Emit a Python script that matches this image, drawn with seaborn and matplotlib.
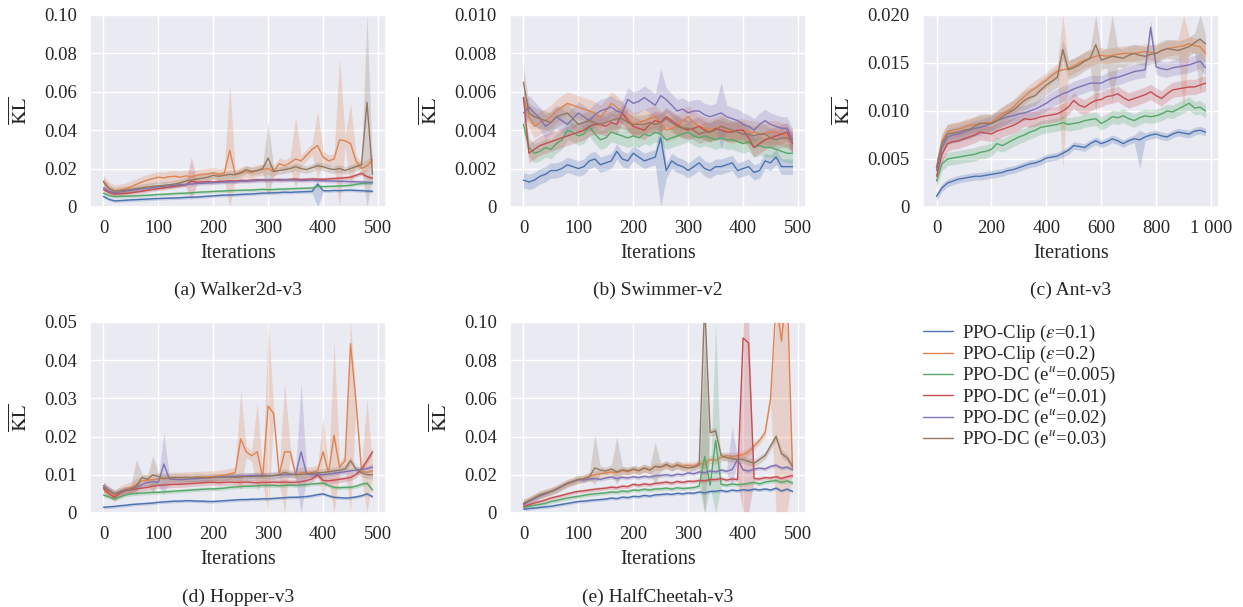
import matplotlib
matplotlib.use("Agg")
import matplotlib.pyplot as plt
from matplotlib.lines import Line2D
import seaborn as sns
import numpy as np
import pandas as pd

methods = ["PPO-Clip ($\\it{\\varepsilon}$=0.1)", "PPO-Clip ($\\it{\\varepsilon}$=0.2)",
           "PPO-DC (e$^{\\it{u}}$=0.005)", "PPO-DC (e$^{\\it{u}}$=0.01)",
           "PPO-DC (e$^{\\it{u}}$=0.02)", "PPO-DC (e$^{\\it{u}}$=0.03)"]

iters_500 = list(range(0, 500, 10))
iters_1000 = list(range(0, 1000, 20))

# ---- Walker2d-v3 ----
walker = [
    [0.0055,0.0040,0.0032,0.0033,0.0035,0.0037,0.0038,0.0040,0.0041,0.0043,
     0.0044,0.0045,0.0046,0.0047,0.0048,0.0050,0.0051,0.0052,0.0054,0.0056,
     0.0058,0.0060,0.0062,0.0062,0.0064,0.0065,0.0067,0.0068,0.0070,0.0072,
     0.0073,0.0074,0.0075,0.0077,0.0076,0.0078,0.0079,0.0080,0.0081,0.0120,
     0.0085,0.0084,0.0086,0.0085,0.0087,0.0088,0.0086,0.0085,0.0083,0.0082],
    [0.0135,0.0100,0.0085,0.0088,0.0095,0.0105,0.0118,0.0130,0.0140,0.0148,
     0.0155,0.0152,0.0158,0.0160,0.0155,0.0162,0.0158,0.0165,0.0170,0.0172,
     0.0178,0.0170,0.0175,0.0295,0.0170,0.0175,0.0185,0.0180,0.0190,0.0195,
     0.0200,0.0185,0.0225,0.0215,0.0230,0.0250,0.0240,0.0270,0.0300,0.0320,
     0.0260,0.0240,0.0250,0.0350,0.0345,0.0330,0.0240,0.0200,0.0215,0.0245],
    [0.0072,0.0060,0.0054,0.0055,0.0056,0.0057,0.0058,0.0060,0.0061,0.0063,
     0.0065,0.0066,0.0068,0.0070,0.0071,0.0072,0.0074,0.0076,0.0078,0.0079,
     0.0081,0.0082,0.0083,0.0085,0.0086,0.0087,0.0088,0.0088,0.0090,0.0092,
     0.0090,0.0091,0.0093,0.0094,0.0095,0.0096,0.0097,0.0098,0.0099,0.0108,
     0.0106,0.0107,0.0108,0.0110,0.0111,0.0113,0.0118,0.0122,0.0124,0.0126],
    [0.0090,0.0075,0.0068,0.0069,0.0071,0.0074,0.0078,0.0082,0.0087,0.0092,
     0.0096,0.0100,0.0104,0.0108,0.0112,0.0115,0.0135,0.0128,0.0130,0.0132,
     0.0130,0.0133,0.0134,0.0136,0.0135,0.0138,0.0137,0.0140,0.0142,0.0141,
     0.0140,0.0142,0.0143,0.0141,0.0144,0.0145,0.0143,0.0144,0.0146,0.0145,
     0.0144,0.0146,0.0148,0.0150,0.0152,0.0155,0.0165,0.0175,0.0158,0.0150],
    [0.0100,0.0082,0.0075,0.0078,0.0082,0.0086,0.0090,0.0094,0.0098,0.0102,
     0.0105,0.0108,0.0111,0.0114,0.0116,0.0118,0.0120,0.0122,0.0124,0.0125,
     0.0127,0.0128,0.0130,0.0131,0.0132,0.0134,0.0135,0.0136,0.0138,0.0140,
     0.0140,0.0141,0.0139,0.0142,0.0141,0.0140,0.0138,0.0139,0.0140,0.0138,
     0.0137,0.0136,0.0135,0.0134,0.0133,0.0132,0.0131,0.0130,0.0129,0.0128],
    [0.0130,0.0095,0.0082,0.0085,0.0088,0.0092,0.0096,0.0100,0.0104,0.0108,
     0.0110,0.0113,0.0116,0.0120,0.0125,0.0135,0.0140,0.0145,0.0150,0.0155,
     0.0165,0.0160,0.0165,0.0170,0.0168,0.0180,0.0195,0.0185,0.0190,0.0200,
     0.0255,0.0185,0.0190,0.0195,0.0200,0.0210,0.0200,0.0195,0.0205,0.0215,
     0.0210,0.0200,0.0195,0.0200,0.0190,0.0200,0.0210,0.0220,0.0545,0.0170],
]
walker_spread = [0.0008, 0.003, 0.0008, 0.001, 0.001, 0.002]
walker_spikes = [(1, 230, 0.0, 0.064), (3, 160, 0.004, 0.026), (5, 300, 0.005, 0.044),
                 (1, 350, 0.01, 0.047), (1, 390, 0.015, 0.050), (1, 430, 0.0, 0.078),
                 (1, 450, 0.01, 0.054), (5, 480, 0.0, 0.10), (0, 390, 0.0, 0.013)]

# ---- Swimmer-v2 ----
swimmer = [
    [0.0014,0.0013,0.0014,0.0016,0.0017,0.0019,0.0019,0.0020,0.0022,0.0021,
     0.0020,0.0021,0.0024,0.0025,0.0022,0.0023,0.0024,0.0029,0.0025,0.0024,
     0.0028,0.0026,0.0024,0.0025,0.0026,0.0036,0.0019,0.0024,0.0022,0.0021,
     0.0019,0.0021,0.0023,0.0020,0.0019,0.0021,0.0021,0.0022,0.0023,0.0019,
     0.0020,0.0021,0.0018,0.0019,0.0024,0.0023,0.0026,0.0021,0.0021,0.0021],
    [0.0057,0.0047,0.0042,0.0044,0.0045,0.0047,0.0050,0.0052,0.0054,0.0053,
     0.0052,0.0051,0.0050,0.0049,0.0047,0.0050,0.0054,0.0052,0.0049,0.0046,
     0.0043,0.0044,0.0045,0.0046,0.0047,0.0044,0.0040,0.0041,0.0042,0.0045,
     0.0047,0.0044,0.0042,0.0041,0.0040,0.0041,0.0042,0.0040,0.0039,0.0040,
     0.0040,0.0039,0.0039,0.0038,0.0038,0.0039,0.0039,0.0038,0.0037,0.0034],
    [0.0043,0.0031,0.0028,0.0029,0.0031,0.0030,0.0033,0.0035,0.0040,0.0039,
     0.0037,0.0038,0.0042,0.0038,0.0035,0.0036,0.0039,0.0038,0.0037,0.0036,
     0.0037,0.0036,0.0038,0.0037,0.0039,0.0038,0.0035,0.0036,0.0037,0.0038,
     0.0039,0.0037,0.0036,0.0037,0.0036,0.0035,0.0036,0.0035,0.0035,0.0034,
     0.0033,0.0034,0.0031,0.0032,0.0031,0.0031,0.0030,0.0029,0.0028,0.0028],
    [0.0057,0.0028,0.0030,0.0032,0.0033,0.0034,0.0035,0.0036,0.0037,0.0038,
     0.0039,0.0040,0.0042,0.0043,0.0043,0.0042,0.0044,0.0043,0.0049,0.0045,
     0.0042,0.0041,0.0040,0.0043,0.0045,0.0044,0.0047,0.0045,0.0043,0.0041,
     0.0040,0.0041,0.0042,0.0040,0.0039,0.0041,0.0040,0.0039,0.0039,0.0040,
     0.0040,0.0036,0.0031,0.0033,0.0035,0.0036,0.0037,0.0038,0.0039,0.0033],
    [0.0049,0.0052,0.0049,0.0046,0.0042,0.0044,0.0047,0.0045,0.0043,0.0046,
     0.0049,0.0047,0.0045,0.0048,0.0050,0.0051,0.0052,0.0050,0.0049,0.0056,
     0.0054,0.0055,0.0057,0.0055,0.0053,0.0058,0.0056,0.0053,0.0050,0.0051,
     0.0049,0.0050,0.0050,0.0048,0.0047,0.0048,0.0049,0.0047,0.0046,0.0045,
     0.0043,0.0042,0.0040,0.0043,0.0045,0.0043,0.0042,0.0041,0.0041,0.0035],
    [0.0065,0.0049,0.0047,0.0046,0.0045,0.0044,0.0047,0.0048,0.0049,0.0046,
     0.0043,0.0044,0.0045,0.0044,0.0043,0.0044,0.0045,0.0046,0.0046,0.0044,
     0.0043,0.0043,0.0043,0.0044,0.0043,0.0044,0.0046,0.0044,0.0042,0.0041,
     0.0041,0.0040,0.0038,0.0039,0.0039,0.0040,0.0042,0.0041,0.0040,0.0039,
     0.0038,0.0038,0.0037,0.0038,0.0038,0.0036,0.0035,0.0036,0.0036,0.0034],
]
swimmer_spread = [0.0004, 0.0006, 0.0005, 0.0005, 0.0006, 0.0005]
swimmer_spikes = [(0, 250, 0.0, 0.0045), (4, 250, 0.004, 0.0072), (4, 360, 0.003, 0.0065),
                  (5, 0, 0.005, 0.0073)]

# ---- Ant-v3 ----
ant = [
    [0.0011,0.0020,0.0025,0.0027,0.0029,0.0030,0.0031,0.0032,0.0032,0.0033,
     0.0034,0.0035,0.0036,0.0038,0.0039,0.0041,0.0043,0.0045,0.0046,0.0048,
     0.0051,0.0052,0.0053,0.0056,0.0059,0.0064,0.0063,0.0062,0.0066,0.0069,
     0.0066,0.0068,0.0071,0.0069,0.0066,0.0069,0.0071,0.0070,0.0073,0.0075,
     0.0076,0.0074,0.0073,0.0076,0.0078,0.0077,0.0076,0.0079,0.0080,0.0078],
    [0.0041,0.0069,0.0078,0.0080,0.0081,0.0083,0.0085,0.0086,0.0087,0.0088,
     0.0088,0.0093,0.0097,0.0100,0.0104,0.0110,0.0115,0.0120,0.0124,0.0128,
     0.0132,0.0137,0.0141,0.0143,0.0144,0.0147,0.0150,0.0153,0.0155,0.0157,
     0.0158,0.0157,0.0158,0.0159,0.0160,0.0160,0.0160,0.0161,0.0162,0.0161,
     0.0160,0.0163,0.0165,0.0166,0.0167,0.0168,0.0170,0.0168,0.0167,0.0160],
    [0.0027,0.0045,0.0050,0.0051,0.0052,0.0053,0.0054,0.0055,0.0057,0.0058,
     0.0060,0.0066,0.0064,0.0067,0.0070,0.0073,0.0075,0.0078,0.0080,0.0083,
     0.0084,0.0085,0.0086,0.0088,0.0086,0.0087,0.0088,0.0090,0.0091,0.0092,
     0.0087,0.0090,0.0094,0.0093,0.0095,0.0092,0.0090,0.0093,0.0095,0.0094,
     0.0095,0.0097,0.0100,0.0099,0.0102,0.0105,0.0108,0.0103,0.0104,0.0100],
    [0.0032,0.0055,0.0066,0.0068,0.0069,0.0071,0.0073,0.0075,0.0078,0.0077,
     0.0076,0.0079,0.0081,0.0083,0.0085,0.0088,0.0092,0.0091,0.0092,0.0094,
     0.0095,0.0096,0.0097,0.0100,0.0104,0.0111,0.0106,0.0104,0.0108,0.0111,
     0.0112,0.0115,0.0116,0.0118,0.0114,0.0111,0.0113,0.0115,0.0117,0.0120,
     0.0116,0.0113,0.0118,0.0122,0.0123,0.0124,0.0125,0.0125,0.0127,0.0129],
    [0.0038,0.0062,0.0073,0.0075,0.0076,0.0078,0.0080,0.0082,0.0083,0.0085,
     0.0087,0.0090,0.0092,0.0094,0.0095,0.0097,0.0098,0.0100,0.0102,0.0105,
     0.0108,0.0112,0.0115,0.0118,0.0120,0.0123,0.0125,0.0127,0.0129,0.0129,
     0.0129,0.0132,0.0134,0.0135,0.0137,0.0139,0.0141,0.0142,0.0143,0.0187,
     0.0146,0.0144,0.0143,0.0145,0.0146,0.0147,0.0148,0.0150,0.0152,0.0145],
    [0.0041,0.0066,0.0076,0.0077,0.0078,0.0080,0.0081,0.0084,0.0087,0.0087,
     0.0087,0.0090,0.0094,0.0098,0.0101,0.0106,0.0111,0.0114,0.0116,0.0122,
     0.0127,0.0131,0.0135,0.0164,0.0143,0.0145,0.0148,0.0152,0.0155,0.0169,
     0.0153,0.0155,0.0157,0.0156,0.0155,0.0158,0.0160,0.0158,0.0157,0.0159,
     0.0160,0.0163,0.0165,0.0164,0.0163,0.0165,0.0167,0.0171,0.0175,0.0170],
]
ant_spread = [0.0004, 0.0008, 0.0007, 0.0008, 0.0008, 0.001]
ant_spikes = [(1, 460, 0.004, 0.020), (5, 580, 0.010, 0.020), (5, 640, 0.011, 0.020),
              (1, 900, 0.010, 0.020), (0, 740, 0.004, 0.008), (5, 960, 0.012, 0.020)]

# ---- Hopper-v3 ----
hopper = [
    [0.0015,0.0016,0.0017,0.0019,0.0020,0.0022,0.0023,0.0024,0.0025,0.0026,
     0.0028,0.0029,0.0030,0.0031,0.0031,0.0032,0.0032,0.0031,0.0031,0.0030,
     0.0030,0.0031,0.0032,0.0033,0.0034,0.0035,0.0035,0.0036,0.0036,0.0037,
     0.0037,0.0038,0.0039,0.0040,0.0041,0.0041,0.0042,0.0043,0.0045,0.0048,
     0.0050,0.0045,0.0041,0.0040,0.0039,0.0040,0.0042,0.0045,0.0050,0.0043],
    [0.0067,0.0055,0.0045,0.0055,0.0062,0.0067,0.0075,0.0084,0.0086,0.0087,
     0.0089,0.0090,0.0091,0.0092,0.0092,0.0093,0.0093,0.0094,0.0094,0.0095,
     0.0095,0.0097,0.0099,0.0102,0.0106,0.0194,0.0160,0.0150,0.0160,0.0093,
     0.0280,0.0260,0.0100,0.0160,0.0160,0.0100,0.0105,0.0106,0.0106,0.0110,
     0.0160,0.0105,0.0203,0.0120,0.0137,0.0443,0.0290,0.0110,0.0106,0.0110],
    [0.0047,0.0042,0.0037,0.0042,0.0047,0.0050,0.0051,0.0052,0.0053,0.0054,
     0.0054,0.0055,0.0056,0.0057,0.0058,0.0059,0.0060,0.0061,0.0062,0.0063,
     0.0063,0.0064,0.0065,0.0067,0.0068,0.0069,0.0070,0.0070,0.0071,0.0072,
     0.0072,0.0072,0.0071,0.0072,0.0073,0.0072,0.0073,0.0074,0.0076,0.0077,
     0.0078,0.0072,0.0067,0.0066,0.0067,0.0067,0.0070,0.0075,0.0078,0.0060],
    [0.0063,0.0050,0.0041,0.0052,0.0059,0.0061,0.0063,0.0065,0.0067,0.0070,
     0.0072,0.0073,0.0074,0.0075,0.0075,0.0076,0.0077,0.0078,0.0079,0.0080,
     0.0080,0.0079,0.0080,0.0081,0.0080,0.0080,0.0081,0.0080,0.0079,0.0080,
     0.0080,0.0081,0.0080,0.0081,0.0080,0.0080,0.0082,0.0085,0.0089,0.0100,
     0.0085,0.0084,0.0086,0.0088,0.0090,0.0093,0.0100,0.0115,0.0137,0.0160],
    [0.0072,0.0060,0.0050,0.0055,0.0060,0.0063,0.0068,0.0074,0.0080,0.0082,
     0.0080,0.0128,0.0089,0.0088,0.0087,0.0088,0.0089,0.0090,0.0091,0.0092,
     0.0093,0.0094,0.0095,0.0096,0.0096,0.0097,0.0097,0.0098,0.0098,0.0099,
     0.0097,0.0098,0.0099,0.0100,0.0100,0.0101,0.0160,0.0102,0.0100,0.0101,
     0.0100,0.0102,0.0104,0.0106,0.0108,0.0110,0.0112,0.0114,0.0116,0.0120],
    [0.0067,0.0058,0.0050,0.0056,0.0060,0.0062,0.0070,0.0093,0.0088,0.0100,
     0.0095,0.0090,0.0092,0.0093,0.0093,0.0093,0.0092,0.0093,0.0093,0.0092,
     0.0093,0.0093,0.0094,0.0094,0.0093,0.0094,0.0095,0.0095,0.0096,0.0096,
     0.0097,0.0098,0.0100,0.0106,0.0102,0.0100,0.0101,0.0102,0.0104,0.0105,
     0.0106,0.0108,0.0110,0.0112,0.0115,0.0137,0.0115,0.0105,0.0100,0.0100],
]
hopper_spread = [0.0004, 0.0015, 0.0005, 0.0008, 0.0008, 0.001]
hopper_spikes = [(1, 250, 0.006, 0.032), (1, 280, 0.006, 0.029), (1, 300, 0.0, 0.05),
                 (1, 330, 0.0, 0.034), (1, 400, 0.005, 0.025), (1, 420, 0.0, 0.045),
                 (1, 450, 0.0, 0.05), (1, 480, 0.0, 0.030), (4, 110, 0.005, 0.021),
                 (4, 360, 0.0, 0.034), (5, 60, 0.005, 0.014), (5, 90, 0.005, 0.015)]

# ---- HalfCheetah-v3 ----
cheetah = [
    [0.0020,0.0023,0.0026,0.0029,0.0032,0.0035,0.0040,0.0045,0.0050,0.0055,
     0.0060,0.0062,0.0065,0.0068,0.0070,0.0073,0.0078,0.0075,0.0083,0.0080,
     0.0087,0.0085,0.0092,0.0088,0.0095,0.0096,0.0100,0.0097,0.0103,0.0100,
     0.0105,0.0103,0.0110,0.0105,0.0113,0.0113,0.0118,0.0112,0.0120,0.0116,
     0.0122,0.0118,0.0125,0.0120,0.0126,0.0120,0.0130,0.0115,0.0125,0.0113],
    [0.0052,0.0065,0.0080,0.0095,0.0103,0.0113,0.0125,0.0140,0.0155,0.0165,
     0.0175,0.0180,0.0190,0.0200,0.0205,0.0210,0.0215,0.0210,0.0222,0.0215,
     0.0227,0.0220,0.0235,0.0225,0.0244,0.0240,0.0250,0.0240,0.0255,0.0245,
     0.0250,0.0245,0.0260,0.0255,0.0280,0.0275,0.0290,0.0300,0.0295,0.0300,
     0.0305,0.0320,0.0350,0.0380,0.0420,0.0600,0.1100,0.0900,0.1200,0.0230],
    [0.0030,0.0035,0.0040,0.0045,0.0050,0.0060,0.0065,0.0072,0.0078,0.0083,
     0.0087,0.0092,0.0097,0.0100,0.0103,0.0105,0.0110,0.0108,0.0115,0.0112,
     0.0120,0.0118,0.0124,0.0120,0.0126,0.0126,0.0130,0.0125,0.0132,0.0128,
     0.0130,0.0133,0.0140,0.0296,0.0145,0.0380,0.0150,0.0145,0.0152,0.0148,
     0.0150,0.0155,0.0160,0.0152,0.0162,0.0166,0.0170,0.0160,0.0168,0.0157],
    [0.0035,0.0043,0.0052,0.0060,0.0068,0.0078,0.0085,0.0092,0.0100,0.0107,
     0.0113,0.0116,0.0120,0.0124,0.0127,0.0130,0.0135,0.0132,0.0140,0.0138,
     0.0150,0.0145,0.0152,0.0148,0.0155,0.0157,0.0162,0.0156,0.0165,0.0160,
     0.0166,0.0165,0.0170,0.0168,0.0175,0.0175,0.0180,0.0172,0.0178,0.0175,
     0.0916,0.0890,0.0180,0.0178,0.0185,0.0183,0.0190,0.0180,0.0190,0.0195],
    [0.0044,0.0060,0.0075,0.0090,0.0100,0.0113,0.0125,0.0140,0.0155,0.0165,
     0.0175,0.0172,0.0178,0.0180,0.0176,0.0183,0.0188,0.0180,0.0187,0.0183,
     0.0190,0.0185,0.0192,0.0188,0.0195,0.0196,0.0200,0.0195,0.0203,0.0200,
     0.0210,0.0205,0.0215,0.0210,0.0220,0.0215,0.0225,0.0218,0.0227,0.0280,
     0.0225,0.0220,0.0230,0.0235,0.0230,0.0244,0.0250,0.0235,0.0240,0.0227],
    [0.0049,0.0065,0.0080,0.0095,0.0105,0.0113,0.0125,0.0140,0.0155,0.0165,
     0.0175,0.0180,0.0190,0.0236,0.0225,0.0220,0.0230,0.0215,0.0225,0.0220,
     0.0230,0.0222,0.0235,0.0225,0.0244,0.0240,0.0255,0.0240,0.0250,0.0240,
     0.0236,0.0240,0.0250,0.1100,0.0420,0.0430,0.0300,0.0290,0.0285,0.0280,
     0.0280,0.0270,0.0260,0.0280,0.0300,0.0350,0.0400,0.0310,0.0290,0.0244],
]
cheetah_spread = [0.0008, 0.002, 0.001, 0.001, 0.001, 0.002]
cheetah_spikes = [(5, 130, 0.015, 0.041), (5, 170, 0.015, 0.040), (5, 240, 0.015, 0.037),
                  (2, 330, 0.0, 0.088), (2, 350, 0.0, 0.10), (3, 400, 0.0, 0.10),
                  (3, 410, 0.0, 0.10), (1, 460, 0.0, 0.10), (1, 470, 0.0, 0.10),
                  (1, 480, 0.0, 0.10), (5, 330, 0.0, 0.10), (4, 380, 0.015, 0.045)]

titles = ["(a) Walker2d-v3", "(b) Swimmer-v2", "(c) Ant-v3", "(d) Hopper-v3", "(e) HalfCheetah-v3"]
yticks = [[0, 0.02, 0.04, 0.06, 0.08, 0.10],
          [0, 0.002, 0.004, 0.006, 0.008, 0.010],
          [0, 0.005, 0.010, 0.015, 0.020],
          [0, 0.01, 0.02, 0.03, 0.04, 0.05],
          [0, 0.02, 0.04, 0.06, 0.08, 0.10]]
ytick_labels = [["0", "0.02", "0.04", "0.06", "0.08", "0.10"],
                ["0", "0.002", "0.004", "0.006", "0.008", "0.010"],
                ["0", "0.005", "0.010", "0.015", "0.020"],
                ["0", "0.01", "0.02", "0.03", "0.04", "0.05"],
                ["0", "0.02", "0.04", "0.06", "0.08", "0.10"]]
xticks = [[0, 100, 200, 300, 400, 500]] * 2 + [[0, 200, 400, 600, 800, 1000]] + [[0, 100, 200, 300, 400, 500]] * 2
xtick_labels = [["0", "100", "200", "300", "400", "500"]] * 2 + \
               [["0", "200", "400", "600", "800", "1 000"]] + [["0", "100", "200", "300", "400", "500"]] * 2

sns.set_theme(style="darkgrid")
plt.rcParams["font.family"] = ["Liberation Serif", "DejaVu Serif"]
plt.rcParams["mathtext.fontset"] = "stix"

colors = sns.color_palette("deep", 6)

fig = plt.figure(figsize=(12.43, 6.07), dpi=100)
positions = [(0.0724, 0.659, 0.2381, 0.3163), (0.4103, 0.659, 0.2381, 0.3163),
             (0.7426, 0.659, 0.2381, 0.3163), (0.0724, 0.1549, 0.2381, 0.3147),
             (0.4103, 0.1549, 0.2381, 0.3147)]

envs = [(walker, iters_500, walker_spread, walker_spikes),
        (swimmer, iters_500, swimmer_spread, swimmer_spikes),
        (ant, iters_1000, ant_spread, ant_spikes),
        (hopper, iters_500, hopper_spread, hopper_spikes),
        (cheetah, iters_500, cheetah_spread, cheetah_spikes)]

for k, (series, iters, spread, spikes) in enumerate(envs):
    ax = fig.add_axes(positions[k])
    rows = []
    for m, vals in enumerate(series):
        for it, v in zip(iters, vals):
            rows.append({"Iterations": it, "KL": v, "method": methods[m]})
    df = pd.DataFrame(rows)
    sns.lineplot(data=df, x="Iterations", y="KL", hue="method", hue_order=methods,
                 palette=colors, linewidth=1.0, legend=False, ax=ax, errorbar=None)
    for m, vals in enumerate(series):
        v = np.array(vals)
        lo = v - spread[m]
        hi = v + spread[m]
        for s, it, l, h in spikes:
            if s == m:
                idx = iters.index(it)
                lo[idx] = l
                hi[idx] = h
        ax.fill_between(iters, lo, hi, color=colors[m], alpha=0.25, linewidth=0)
    ax.set_ylim(yticks[k][0], yticks[k][-1])
    ax.set_yticks(yticks[k])
    ax.set_yticklabels(ytick_labels[k], fontsize=13.5)
    ax.set_xticks(xticks[k])
    ax.set_xticklabels(xtick_labels[k], fontsize=13.5)
    ax.margins(x=0.05)
    ax.set_xlabel("Iterations", fontsize=14.5, labelpad=5)
    ax.set_ylabel(r"$\overline{\mathrm{KL}}$", fontsize=14.5, labelpad=9)
    pos = positions[k]
    cap_y = 0.522 if k < 3 else 0.016
    fig.text(pos[0] + pos[2] / 2, cap_y, titles[k], ha="center", va="center", fontsize=14)

handles = [Line2D([0], [0], color=colors[m], linewidth=1.0) for m in range(6)]
fig.legend(handles, methods, loc="upper left", bbox_to_anchor=(0.7426, 0.468),
           frameon=False, fontsize=13.5, labelspacing=0.0, handlelength=1.6,
           handletextpad=0.46, borderpad=0, borderaxespad=0)

fig.savefig("out.png", dpi=100)
